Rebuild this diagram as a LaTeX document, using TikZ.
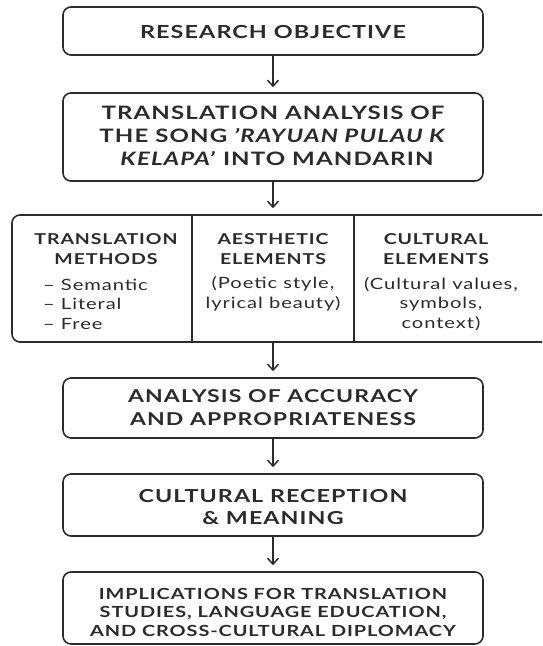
\documentclass[tikz,border=0pt]{standalone}
\usepackage{fontspec}
\setmainfont{Lato}[BoldFont={Lato Bold}, FakeStretch=1.3, LetterSpace=6]
\usetikzlibrary{arrows.meta}
\definecolor{ink}{HTML}{2B2B2B}
\tikzset{
  box/.style={draw=ink, line width=1.6pt, rounded corners=8pt, fill=white},
  hd/.style={font=\bfseries, text=ink, align=center, inner sep=0pt},
  bd/.style={text=ink, align=center, inner sep=0pt},
  conn/.style={draw=ink, line width=1.5pt, -{Straight Barb[length=6pt,width=11pt,line width=1.5pt]}}
}
\begin{document}
\begin{tikzpicture}[x=1pt,y=-1pt]
\useasboundingbox (0,0) rectangle (542,646);
\begin{scope}
\clip (0,0) rectangle (542,646);
% boxes
\node[box, minimum width=420pt, minimum height=48pt] (b1) at (273,31) {};
\node[box, minimum width=420pt, minimum height=88pt] (b2) at (273,137) {};
\node[box, minimum width=548pt, minimum height=127pt] (b3) at (286,278.5) {};
\node[box, minimum width=420pt, minimum height=60pt] (b4) at (273,408) {};
\node[box, minimum width=420pt, minimum height=62pt] (b5) at (273,505) {};
\node[box, minimum width=420pt, minimum height=72pt] (b6) at (273,608) {};
\draw[draw=ink, line width=1.6pt] (192,215) -- (192,342);
\draw[draw=ink, line width=1.6pt] (354,215) -- (354,342);
% texts
\node[hd, font=\fontsize{18}{20}\bfseries] (t1) at (273,32) {RESEARCH OBJECTIVE};
\node[hd, font=\fontsize{18.5}{23}\bfseries] (t2) at (273,136) {TRANSLATION ANALYSIS OF\\THE SONG \textit{'RAYUAN PULAU K}\\\hspace{8pt}\textit{KELAPA'} INTO MANDARIN};
\node[hd, font=\fontsize{15}{20}\bfseries] (c1h) at (106,249) {TRANSLATION\\METHODS};
\node[bd, font=\fontsize{15.5}{19.5}\selectfont, align=left, anchor=west] (c1b) at (43,304) {– Semantic\\– Literal\\– Free};
\node[hd, font=\fontsize{15}{20}\bfseries] (c2h) at (273,249) {AESTHETIC\\ELEMENTS};
\node[bd, font=\fontsize{15.5}{19.5}\selectfont] (c2b) at (273,294) {(Poetic style,\\lyrical beauty)};
\node[hd, font=\fontsize{15}{20}\bfseries] (c3h) at (436,249) {CULTURAL\\ELEMENTS};
\node[bd, font=\fontsize{15.5}{19.5}\selectfont] (c3b) at (441,304) {(Cultural values,\\symbols,\\context)};
\node[hd, font=\fontsize{17.7}{23}\bfseries] (t4) at (273,408) {ANALYSIS OF ACCURACY\\AND APPROPRIATENESS};
\node[hd, font=\fontsize{17.9}{22}\bfseries] (t5) at (273,507) {CULTURAL RECEPTION\\\& MEANING};
\node[hd, font=\fontsize{15.3}{18.5}\bfseries] (t6) at (273,612) {IMPLICATIONS FOR TRANSLATION\\STUDIES, LANGUAGE EDUCATION,\\AND CROSS-CULTURAL DIPLOMACY};
% connectors
\draw[conn] (b1.south) -- ([yshift=5pt]b2.north);
\draw[conn] (b2.south) -- ([yshift=6pt]b3.north -| b2.south);
\draw[conn] (b3.south -| b2.south) -- ([yshift=6pt]b4.north);
\draw[conn] (b4.south) -- ([yshift=6pt]b5.north);
\draw[conn] (b5.south) -- ([yshift=6pt]b6.north);
\end{scope}
\end{tikzpicture}
\end{document}
